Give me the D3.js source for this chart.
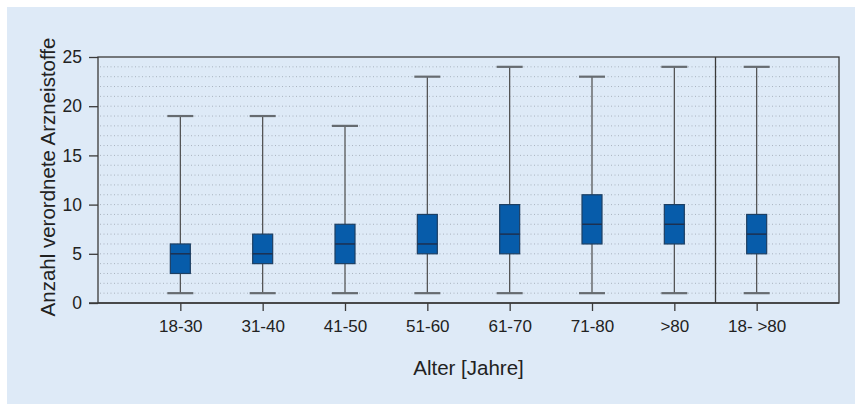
<!DOCTYPE html>
<html>
<head>
<meta charset="utf-8">
<script src="https://cdn.jsdelivr.net/npm/d3@7"></script>
<style>
  body { margin: 0; background: #ffffff; }
  text { font-family: "Liberation Sans", Arial, sans-serif; fill: #222; }
</style>
</head>
<body>
<script>
// age groups (last one is the total group)
var groups = ["18-30", "31-40", "41-50", "51-60", "61-70", "71-80", ">80", "18- >80"];
// box plot values per group
var mins    = [1, 1, 1, 1, 1, 1, 1, 1];
var q1s     = [3, 4, 4, 5, 5, 6, 6, 5];
var medians = [5, 5, 6, 6, 7, 8, 8, 7];
var q3s     = [6, 7, 8, 9, 10, 11, 10, 9];
var maxs    = [19, 19, 18, 23, 24, 23, 24, 24];
var yTicks  = [0, 5, 10, 15, 20, 25];

var w = 855, h = 404;
var graphLeft = 98, graphRight = 839, graphTop = 57, graphBottom = 303;

var svg = d3.select("body").append("svg")
    .attr("width", w)
    .attr("height", h);

// light blue panel behind everything
svg.append("rect")
    .attr("x", 7).attr("y", 7)
    .attr("width", w - 7).attr("height", h - 7)
    .attr("fill", "#deeaf7");

var x = d3.scaleLinear().domain([0, groups.length + 1]).range([graphLeft, graphRight]);
var y = d3.scaleLinear().domain([0, 25]).range([graphBottom, graphTop]);

// dotted grid at every unit
svg.append("g").selectAll("line")
    .data(d3.range(1, 25))
    .enter()
    .append("line")
    .attr("x1", graphLeft + 2).attr("x2", graphRight)
    .attr("y1", function(d) { return y(d); })
    .attr("y2", function(d) { return y(d); })
    .attr("stroke", "#a9b3bf")
    .attr("stroke-width", 1)
    .attr("stroke-dasharray", "1,2.5");

// frame around the plot
svg.append("rect")
    .attr("x", graphLeft).attr("y", graphTop)
    .attr("width", graphRight - graphLeft).attr("height", graphBottom - graphTop)
    .attr("fill", "none")
    .attr("stroke", "#3a3a3a")
    .attr("stroke-width", 1.3);

// divider before the total group
svg.append("line")
    .attr("x1", x(groups.length - 0.5)).attr("x2", x(groups.length - 0.5))
    .attr("y1", graphTop).attr("y2", graphBottom)
    .attr("stroke", "#3a3a3a")
    .attr("stroke-width", 1.3);

// y axis
var yAxis = svg.append("g")
    .attr("transform", "translate(" + graphLeft + ",0)")
    .call(d3.axisLeft(y).tickValues(yTicks).tickSize(9).tickPadding(7));
yAxis.select(".domain").remove();
yAxis.selectAll("line").attr("stroke", "#3a3a3a").attr("stroke-width", 1.3);
yAxis.selectAll("text").style("font-size", "17.5px").attr("fill", "#222")
    .attr("font-family", "Liberation Sans, Arial, sans-serif");

// x axis
var xAxis = svg.append("g")
    .attr("transform", "translate(0," + graphBottom + ")")
    .call(d3.axisBottom(x)
        .tickValues(d3.range(1, groups.length + 1))
        .tickFormat(function(d) { return groups[d - 1]; })
        .tickSize(8).tickPadding(9));
xAxis.select(".domain").remove();
xAxis.selectAll("line").attr("stroke", "#3a3a3a").attr("stroke-width", 1.3);
xAxis.selectAll("text").style("font-size", "17px").attr("fill", "#222")
    .attr("font-family", "Liberation Sans, Arial, sans-serif");

// extend the bottom line out to the zero tick
svg.append("line")
    .attr("x1", graphLeft - 9).attr("x2", graphRight)
    .attr("y1", graphBottom).attr("y2", graphBottom)
    .attr("stroke", "#3a3a3a")
    .attr("stroke-width", 1.3);

// boxes
var boxW = 20, capW = 26;
var boxes = svg.append("g").selectAll("g")
    .data(groups)
    .enter()
    .append("g");

// whisker line
boxes.append("line")
    .attr("x1", function(d, i) { return x(i + 1); })
    .attr("x2", function(d, i) { return x(i + 1); })
    .attr("y1", function(d, i) { return y(mins[i]); })
    .attr("y2", function(d, i) { return y(maxs[i]); })
    .attr("stroke", "#4a4a4a")
    .attr("stroke-width", 1.2);

// caps
[mins, maxs].forEach(function(arr) {
    boxes.append("line")
        .attr("x1", function(d, i) { return x(i + 1) - capW / 2; })
        .attr("x2", function(d, i) { return x(i + 1) + capW / 2; })
        .attr("y1", function(d, i) { return y(arr[i]); })
        .attr("y2", function(d, i) { return y(arr[i]); })
        .attr("stroke", "#666b70")
        .attr("stroke-width", 2.2);
});

// box body
boxes.append("rect")
    .attr("x", function(d, i) { return x(i + 1) - boxW / 2; })
    .attr("y", function(d, i) { return y(q3s[i]); })
    .attr("width", boxW)
    .attr("height", function(d, i) { return y(q1s[i]) - y(q3s[i]); })
    .attr("fill", "#075caa")
    .attr("stroke", "#1d3f63")
    .attr("stroke-width", 1.2);

// median
boxes.append("line")
    .attr("x1", function(d, i) { return x(i + 1) - boxW / 2; })
    .attr("x2", function(d, i) { return x(i + 1) + boxW / 2; })
    .attr("y1", function(d, i) { return y(medians[i]); })
    .attr("y2", function(d, i) { return y(medians[i]); })
    .attr("stroke", "#1d3050")
    .attr("stroke-width", 1.5);

// axis titles
svg.append("text")
    .attr("x", (graphLeft + graphRight) / 2)
    .attr("y", 375)
    .attr("text-anchor", "middle")
    .style("font-size", "20.5px")
    .text("Alter [Jahre]");

svg.append("text")
    .attr("transform", "translate(55,177) rotate(-90)")
    .attr("text-anchor", "middle")
    .style("font-size", "20.5px")
    .text("Anzahl verordnete Arzneistoffe");
</script>
</body>
</html>
